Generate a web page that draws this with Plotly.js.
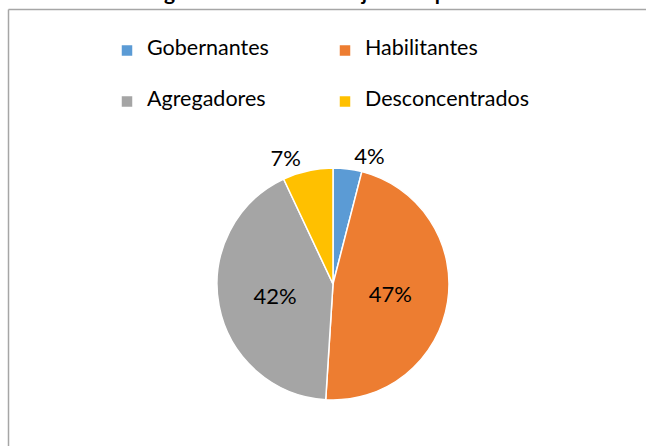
<!DOCTYPE html>
<html>
<head>
<meta charset="utf-8">
<script src="https://cdn.plot.ly/plotly-3.0.1.min.js"></script>
<style>
  html, body { margin: 0; padding: 0; background: #fff; }
  #chart { width: 646px; height: 446px; }
</style>
</head>
<body>
<div id="chart"></div>
<script>
// Data
const procesos = ['Gobernantes', 'Habilitantes', 'Agregadores', 'Desconcentrados'];
const porcentajes = [4, 47, 42, 7];
const colores = ['#5B9BD5', '#ED7D31', '#A5A5A5', '#FFC000'];
const posicionTexto = ['outside', 'inside', 'inside', 'outside'];
const titulo = 'Figura 1. Total de Trabajadores por Procesos';

const W = 646, H = 446;

// legend rows are spaced wide in the original, pad each entry with blank lines
const etiquetas = procesos.map(p => ' <br><span style="font-size:21.5px">' + p + '</span><br> ');

const trace = {
    type: 'pie',
    labels: etiquetas,
    values: porcentajes,
    sort: false,
    direction: 'clockwise',
    rotation: 0,
    textinfo: 'percent',
    textposition: posicionTexto,
    insidetextorientation: 'horizontal',
    textfont: { family: 'Lato, sans-serif', size: 22, color: '#000' },
    marker: { colors: colores, line: { color: '#fff', width: 1.5 } },
    domain: { x: [217 / W, 449 / W], y: [46 / H, 278 / H] },
    hoverinfo: 'none'
};

const layout = {
    width: W,
    height: H,
    margin: { l: 0, r: 0, t: 0, b: 0 },
    paper_bgcolor: '#fff',
    font: { family: 'Lato, sans-serif', color: '#000' },
    // the chart title sits above the cropped frame, only its lower edge shows
    title: {
        text: '<b>' + titulo + '</b>',
        font: { family: 'Lato, sans-serif', size: 21, color: '#000' },
        x: 351 / W,
        xanchor: 'center',
        yref: 'container',
        y: 1,
        yanchor: 'bottom'
    },
    showlegend: true,
    legend: {
        orientation: 'h',
        x: 107 / W,
        xanchor: 'left',
        y: 1 - 20 / H,
        yanchor: 'top',
        bgcolor: 'rgba(0,0,0,0)',
        entrywidth: 173,
        font: { family: 'Lato, sans-serif', size: 12.3, color: '#000' }
    },
    shapes: [
        { type: 'line', xref: 'paper', yref: 'paper', x0: 8.5 / W, x1: 1, y0: 1 - 9.5 / H, y1: 1 - 9.5 / H,
          line: { color: '#a6a6a6', width: 1.5 } },
        { type: 'line', xref: 'paper', yref: 'paper', x0: 8.5 / W, x1: 8.5 / W, y0: 0, y1: 1 - 9.5 / H,
          line: { color: '#a6a6a6', width: 1.5 } }
    ]
};

Plotly.newPlot('chart', [trace], layout, { staticPlot: true });
</script>
</body>
</html>
